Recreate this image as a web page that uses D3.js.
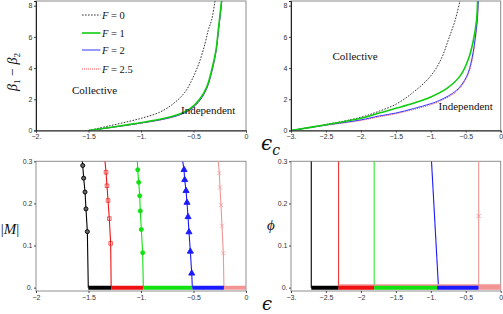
<!DOCTYPE html>
<html>
<head>
<meta charset="utf-8">
<script src="https://cdn.jsdelivr.net/npm/d3@7"></script>
<style>
  body { margin: 0; background: #fff; }
  svg { display: block; }
  .tick text { font-family: "Liberation Sans", Arial, sans-serif; font-size: 7px; fill: #333; }
  .serif { font-family: "Liberation Serif", "DejaVu Serif", serif; }
</style>
</head>
<body>
<div id="chart"></div>
<script>
// ---- data ----
// top panels: critical line beta1 - beta2 against epsilon_c, one curve per F
var fLabels = ["0", "1", "2", "2.5"];

// left panel (range -2..0)
var tlEps = [
  [-1.5, -1.3, -1.105, -0.978, -0.819, -0.692, -0.581, -0.502, -0.438, -0.39, -0.359, -0.327, -0.295, -0.28],
  [-1.5, -1.3, -1.105, -0.978, -0.819, -0.66, -0.533, -0.438, -0.374, -0.327, -0.286, -0.264, -0.248, -0.232, -0.22],
  [-1.5, -1.3, -1.105, -0.978, -0.819, -0.66, -0.533, -0.438, -0.374, -0.327, -0.286, -0.262, -0.245, -0.229, -0.217],
  [-1.5, -1.3, -1.105, -0.978, -0.819, -0.66, -0.533, -0.438, -0.374, -0.327, -0.286, -0.261, -0.244, -0.228, -0.216]
];
var tlBeta = [
  [0, 0.3, 0.6, 0.82, 1.18, 1.72, 2.46, 3.43, 4.5, 5.58, 6.44, 7.1, 8.3, 9],
  [0, 0.19, 0.39, 0.53, 0.72, 0.99, 1.40, 2.04, 2.79, 3.86, 5.15, 6.44, 7.4, 8.4, 9.2],
  [0, 0.18, 0.37, 0.50, 0.68, 0.94, 1.33, 1.95, 2.70, 3.75, 5.05, 6.44, 7.4, 8.4, 9.2],
  [0, 0.17, 0.36, 0.49, 0.67, 0.93, 1.31, 1.92, 2.66, 3.70, 5.00, 6.40, 7.4, 8.4, 9.2]
];

// right panel (range -3..0)
var trEps = [
  [-3, -2.5, -2.0, -1.75, -1.5, -1.25, -1.0, -0.85, -0.75, -0.65, -0.58, -0.56],
  [-3, -2.5, -2.0, -1.75, -1.5, -1.25, -1.0, -0.77, -0.58, -0.46, -0.39, -0.345, -0.33, -0.325],
  [-3, -2.5, -2.0, -1.75, -1.5, -1.25, -1.0, -0.87, -0.63, -0.49, -0.415, -0.368, -0.335, -0.32, -0.315],
  [-3, -2.5, -2.0, -1.75, -1.5, -1.25, -1.0, -0.87, -0.63, -0.49, -0.41, -0.365, -0.333, -0.318, -0.313]
];
var trBeta = [
  [0, 0.38, 0.85, 1.22, 1.68, 2.45, 3.5, 4.6, 5.8, 7.1, 8.4, 9],
  [0, 0.37, 0.78, 1.1, 1.42, 1.75, 2.15, 2.7, 3.5, 4.6, 5.8, 7.1, 8.4, 9],
  [0, 0.35, 0.68, 0.92, 1.12, 1.4, 1.72, 1.94, 2.58, 3.44, 4.52, 5.81, 7.1, 8.4, 9],
  [0, 0.33, 0.64, 0.87, 1.07, 1.34, 1.65, 1.87, 2.5, 3.35, 4.45, 5.75, 7.05, 8.4, 9]
];

// bottom left: |M| against epsilon, one branch per series
var mEps = [
  [-1.559, -1.555, -1.546, -1.533, -1.524, -1.511, -1.502],
  [-1.343, -1.333, -1.324, -1.314, -1.302, -1.289, -1.284],
  [-1.035, -1.031, -1.022, -1.012, -1.007, -0.997, -0.984, -0.978],
  [-0.603, -0.590, -0.584, -0.571, -0.562, -0.552, -0.543, -0.530, -0.517, -0.511],
  [-0.264, -0.254, -0.248, -0.238, -0.229, -0.216, -0.210]
];
var mVal = [
  [0.3, 0.290, 0.260, 0.227, 0.187, 0.133, 0],
  [0.3, 0.274, 0.242, 0.207, 0.164, 0.105, 0],
  [0.3, 0.280, 0.250, 0.218, 0.182, 0.138, 0.083, 0],
  [0.3, 0.280, 0.256, 0.230, 0.202, 0.168, 0.132, 0.086, 0.034, 0],
  [0.3, 0.272, 0.238, 0.196, 0.147, 0.082, 0]
];
// where each series sits on the zero line
var mZeroStart = [-1.502, -1.284, -0.978, -0.511, -0.210];

// bottom right: phi against epsilon
var phiEps = [
  [-2.71, -2.71],
  [-2.32, -2.32],
  [-1.81, -1.81],
  [-0.99, -0.89],
  [-0.315, -0.315, -0.315]
];
var phiVal = [
  [0.3, 0],
  [0.3, 0],
  [0.3, 0],
  [0.3, 0],
  [0.3, 0.17, 0]
];
var phiZeroStart = [-2.71, -2.32, -1.81, -0.91, -0.315];

var lowColors = ["#000000", "#ee1111", "#11e011", "#1a1aff", "#f39494"];

// ---- canvas ----
var svg = d3.select("#chart").append("svg")
    .attr("width", 503)
    .attr("height", 314);

function makePanel(id, xDom, xRange, yDom, yRange) {
  var x = d3.scaleLinear().domain(xDom).range(xRange);
  var y = d3.scaleLinear().domain(yDom).range(yRange);
  svg.append("clipPath").attr("id", id)
    .append("rect")
      .attr("x", xRange[0]).attr("y", yRange[1])
      .attr("width", xRange[1] - xRange[0])
      .attr("height", yRange[0] - yRange[1]);
  return {x: x, y: y, id: id};
}

function frame(p, color) {
  svg.append("rect")
    .attr("x", p.x.range()[0]).attr("y", p.y.range()[1])
    .attr("width", p.x.range()[1] - p.x.range()[0])
    .attr("height", p.y.range()[0] - p.y.range()[1])
    .attr("fill", "none")
    .attr("stroke", color)
    .attr("stroke-width", 1);
}

function axes(p, xTicks, xLab, yTicks, yLab, domainColor) {
  var gx = svg.append("g")
      .attr("transform", "translate(0," + p.y.range()[0] + ")")
      .call(d3.axisBottom(p.x).tickValues(xTicks)
        .tickFormat(function(d, i) { return xLab[i]; })
        .tickSize(2).tickPadding(2));
  var gy = svg.append("g")
      .attr("transform", "translate(" + p.x.range()[0] + ",0)")
      .call(d3.axisLeft(p.y).tickValues(yTicks)
        .tickFormat(function(d, i) { return yLab[i]; })
        .tickSize(2).tickPadding(1.5));
  [gx, gy].forEach(function(g) {
    g.selectAll(".tick line").attr("stroke", "#444");
    if (domainColor) g.select(".domain").attr("stroke", domainColor);
    else g.select(".domain").remove();
  });
}

var tl = makePanel("c-tl", [-2, 0], [36, 246], [0, 8.3], [130.5, 1]);
var tr = makePanel("c-tr", [-3, 0], [291, 500.7], [0, 8.3], [130.5, 1]);
var bl = makePanel("c-bl", [-2, 0], [36, 246], [-0.008, 0.3], [291, 161.3]);
var br = makePanel("c-br", [-3, 0], [291, 500.7], [-0.008, 0.3], [291, 161.3]);

var topStyles = [
  {color: "#333", width: 1, dash: "1.6,1.4"},
  {color: "#10cc10", width: 1.6, dash: null},
  {color: "#3535ff", width: 1, dash: null},
  {color: "#ff4d4d", width: 1, dash: "1,1"}
];

// ---- top panels ----
[[tl, tlEps, tlBeta], [tr, trEps, trBeta]].forEach(function(set) {
  var p = set[0];
  frame(p, "#8a8a8a");
  var line = d3.line()
      .x(function(d) { return p.x(d[0]); })
      .y(function(d) { return p.y(d[1]); })
      .curve(d3.curveCatmullRom.alpha(0.5));
  var g = svg.append("g").attr("clip-path", "url(#" + p.id + ")");
  [0, 3, 2, 1].forEach(function(k) {
    var pts = d3.zip(set[1][k], set[2][k]);
    g.append("path")
      .attr("d", line(pts))
      .attr("fill", "none")
      .attr("stroke", topStyles[k].color)
      .attr("stroke-width", topStyles[k].width)
      .attr("stroke-dasharray", topStyles[k].dash);
  });
});

axes(tl, [-2, -1.5, -1, -0.5, 0], ["−2.", "−1.5", "−1.", "−0.5", "0"],
     [0, 2, 4, 6, 8], ["0", "2", "4", "6", "8"], "#222");
axes(tr, [-3, -2.5, -2, -1.5, -1, -0.5, 0], ["−3.", "−2.5", "−2.", "−1.5", "−1.", "−0.5", "0"],
     [0, 2, 4, 6, 8], ["0", "2", "4", "6", "8"], "#222");

// legend
var legend = svg.append("g");
fLabels.forEach(function(f, i) {
  var ly = [15, 33, 50, 69][i];
  legend.append("line")
    .attr("x1", 82).attr("x2", 100.5).attr("y1", ly).attr("y2", ly)
    .attr("stroke", topStyles[i].color)
    .attr("stroke-width", topStyles[i].width)
    .attr("stroke-dasharray", topStyles[i].dash);
  var t = legend.append("text").attr("class", "serif")
    .attr("x", 102).attr("y", ly + 3.5)
    .attr("font-size", 10.5).attr("fill", "#111");
  t.append("tspan").attr("font-style", "italic").text("F");
  t.append("tspan").text(" = " + f);
});

function note(x, y, s) {
  svg.append("text").attr("class", "serif")
    .attr("x", x).attr("y", y)
    .attr("font-size", 11).attr("fill", "#111")
    .text(s);
}
note(72, 94, "Collective");
note(181, 113.5, "Independent");
note(332.5, 60, "Collective");
note(438.5, 110, "Independent");

// ---- bottom panels ----
function zeroBands(p, starts, width) {
  var g = svg.append("g").attr("clip-path", "url(#" + p.id + ")");
  starts.forEach(function(s, i) {
    var e = i < starts.length - 1 ? starts[i + 1] : 0;
    g.append("line")
      .attr("x1", p.x(s)).attr("x2", p.x(e))
      .attr("y1", p.y(0)).attr("y2", p.y(0))
      .attr("stroke", lowColors[i])
      .attr("stroke-width", width);
  });
  return g;
}

var markerTypes = [d3.symbolCircle, d3.symbolSquare, d3.symbolCircle, d3.symbolTriangle, d3.symbolTimes];

// |M| panel
frame(bl, "#8f8f8f");
var gbl = svg.append("g").attr("clip-path", "url(#c-bl)");
var lineBl = d3.line()
    .x(function(d) { return bl.x(d[0]); })
    .y(function(d) { return bl.y(d[1]); });
mEps.forEach(function(eps, i) {
  var pts = d3.zip(eps, mVal[i]);
  gbl.append("path")
    .attr("d", lineBl(pts))
    .attr("fill", "none")
    .attr("stroke", lowColors[i])
    .attr("stroke-width", 1.1);
  gbl.selectAll(null)
    .data(pts.slice(1, pts.length - 1))
    .enter().append("path")
      .attr("transform", function(d) { return "translate(" + bl.x(d[0]) + "," + bl.y(d[1]) + ")"; })
      .attr("d", d3.symbol().type(markerTypes[i]).size(i == 3 ? 16 : 13))
      .attr("fill", i == 0 ? "#666" : (i == 1 || i == 4 ? "none" : lowColors[i]))
      .attr("stroke", lowColors[i])
      .attr("stroke-width", 0.9)
      .attr("opacity", i == 1 || i == 4 ? 0.75 : 1);
});
zeroBands(bl, mZeroStart, 4);
axes(bl, [-2, -1.5, -1, -0.5, 0], ["−2", "−1.5", "−1.", "−0.5", "0"],
     [0, 0.1, 0.2, 0.3], ["0.", "0.1", "0.2", "0.3"], null);

// phi panel
frame(br, "#8f8f8f");
var gbr = svg.append("g").attr("clip-path", "url(#c-br)");
var lineBr = d3.line()
    .x(function(d) { return br.x(d[0]); })
    .y(function(d) { return br.y(d[1]); });
phiEps.forEach(function(eps, i) {
  var pts = d3.zip(eps, phiVal[i]);
  gbr.append("path")
    .attr("d", lineBr(pts))
    .attr("fill", "none")
    .attr("stroke", lowColors[i])
    .attr("stroke-width", 1.1)
    .attr("opacity", i == 1 || i == 2 ? 0.85 : 1);
  if (pts.length > 2) {
    gbr.append("path")
      .attr("transform", "translate(" + br.x(pts[1][0]) + "," + br.y(pts[1][1]) + ")")
      .attr("d", d3.symbol().type(markerTypes[i]).size(12))
      .attr("fill", "none")
      .attr("stroke", lowColors[i]);
  }
});
// translucent red strip under the zero line, from the red transition on
gbr.append("line")
  .attr("x1", br.x(phiZeroStart[1])).attr("x2", br.x(0))
  .attr("y1", br.y(0) - 1).attr("y2", br.y(0) - 1)
  .attr("stroke", "#f39494").attr("stroke-width", 5);
zeroBands(br, phiZeroStart, 4);
axes(br, [-3, -2.5, -2, -1.5, -1, -0.5, 0], ["−3.", "−2.5", "−2", "−1.5", "−1.", "−0.5", "0"],
     [0, 0.1, 0.2, 0.3], ["0.", "0.1", "0.2", "0.3"], null);

// ---- axis titles ----
var yt = svg.append("text").attr("class", "serif")
    .attr("transform", "translate(17,72) rotate(-90)")
    .attr("text-anchor", "middle")
    .attr("font-size", 14).attr("fill", "#111");
yt.append("tspan").attr("font-style", "italic").text("β");
yt.append("tspan").attr("font-size", 9).attr("dy", 3).text("1");
yt.append("tspan").attr("dy", -3).text(" − ");
yt.append("tspan").attr("font-style", "italic").text("β");
yt.append("tspan").attr("font-size", 9).attr("dy", 3).text("2");

var ec = svg.append("text")
    .attr("x", 261).attr("y", 150)
    .attr("font-family", "DejaVu Serif, serif")
    .attr("font-style", "italic")
    .attr("font-size", 20).attr("fill", "#111");
ec.append("tspan").text("ϵ");
ec.append("tspan").attr("font-size", 14).attr("dy", 5).text("c");

svg.append("text")
  .attr("x", 262).attr("y", 310)
  .attr("font-family", "DejaVu Serif, serif")
  .attr("font-style", "italic")
  .attr("font-size", 18).attr("fill", "#111")
  .text("ϵ");

var mt = svg.append("text").attr("class", "serif")
    .attr("x", 10).attr("y", 234)
    .attr("text-anchor", "middle")
    .attr("font-size", 15).attr("fill", "#111");
mt.append("tspan").text("|");
mt.append("tspan").attr("font-style", "italic").text("M");
mt.append("tspan").text("|");

svg.append("text").attr("class", "serif")
  .attr("x", 271).attr("y", 230)
  .attr("text-anchor", "middle")
  .attr("font-style", "italic")
  .attr("font-size", 15).attr("fill", "#111")
  .text("ϕ");
</script>
</body>
</html>
